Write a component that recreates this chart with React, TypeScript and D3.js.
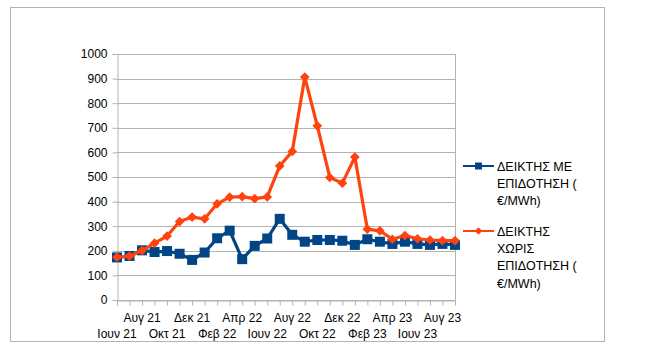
import React, { useEffect, useRef } from "react";
import * as d3 from "d3";

// months Jun 21 .. Sep 23
const months = [
    "Ιουν 21", "Ιουλ 21", "Αυγ 21", "Σεπ 21", "Οκτ 21", "Νοε 21", "Δεκ 21",
    "Ιαν 22", "Φεβ 22", "Μαρ 22", "Απρ 22", "Μαϊ 22", "Ιουν 22", "Ιουλ 22",
    "Αυγ 22", "Σεπ 22", "Οκτ 22", "Νοε 22", "Δεκ 22", "Ιαν 23", "Φεβ 23",
    "Μαρ 23", "Απρ 23", "Μαϊ 23", "Ιουν 23", "Ιουλ 23", "Αυγ 23", "Σεπ 23"
];

const withSubsidy = [
    173, 179, 202, 195, 199, 188, 163, 193, 251, 282, 166, 220, 250, 330,
    265, 237, 244, 244, 241, 224, 247, 237, 228, 237, 228, 224, 228, 224
];

const withoutSubsidy = [
    174, 178, 201, 231, 260, 319, 337, 330, 391, 418, 420, 412, 419, 545,
    604, 906, 708, 498, 475, 581, 288, 281, 247, 262, 249, 244, 241, 241
];

const yTicks = [0, 100, 200, 300, 400, 500, 600, 700, 800, 900, 1000];

const seriesNames = [
    ["ΔΕΙΚΤΗΣ ΜΕ", "ΕΠΙΔΟΤΗΣΗ (", "€/MWh)"],
    ["ΔΕΙΚΤΗΣ", "ΧΩΡΙΣ", "ΕΠΙΔΟΤΗΣΗ (", "€/MWh)"]
];

const BLUE = "#004586";
const RED = "#ff420e";

export default function App() {
    const ref = useRef<SVGSVGElement>(null);

    useEffect(() => {
        const svg = d3.select(ref.current);
        svg.selectAll("*").remove();

        const width = 657;
        const height = 358;
        const margin = { top: 54, right: 202, bottom: 58, left: 117 };
        const font = "'Liberation Sans', Arial, sans-serif";

        svg.append("rect")
            .attr("width", width)
            .attr("height", height)
            .attr("fill", "#fff");

        // outer frame
        svg.append("rect")
            .attr("x", 10.5)
            .attr("y", 7.5)
            .attr("width", 594)
            .attr("height", 334)
            .attr("fill", "none")
            .attr("stroke", "#b3b3b3");

        const x = d3.scalePoint<string>()
            .domain(months)
            .range([margin.left, width - margin.right]);

        const y = d3.scaleLinear()
            .domain([0, 1000])
            .range([height - margin.bottom, margin.top]);

        // grid
        svg.append("g")
            .selectAll("line")
            .data(yTicks)
            .enter()
            .append("line")
            .attr("x1", margin.left)
            .attr("x2", width - margin.right)
            .attr("y1", d => Math.round(y(d)) + 0.5)
            .attr("y2", d => Math.round(y(d)) + 0.5)
            .attr("stroke", "#b3b3b3");

        svg.append("line")
            .attr("x1", width - margin.right + 0.5)
            .attr("x2", width - margin.right + 0.5)
            .attr("y1", y(1000))
            .attr("y2", y(0))
            .attr("stroke", "#b3b3b3");

        // y axis
        const yAxis = svg.append("g")
            .attr("transform", `translate(${margin.left + 0.5},0)`)
            .call(d3.axisLeft(y).tickValues(yTicks).tickFormat(d3.format("d")).tickSize(5).tickPadding(5));
        yAxis.select(".domain").attr("stroke", "#b3b3b3");
        yAxis.selectAll(".tick line").attr("stroke", "#b3b3b3");
        yAxis.selectAll("text")
            .attr("font-family", font)
            .attr("font-size", 12)
            .attr("fill", "#000");

        // x axis
        const xAxis = svg.append("g")
            .attr("transform", `translate(0,${Math.round(y(0)) + 0.5})`)
            .call(d3.axisBottom(x).tickSize(5).tickFormat(() => ""));
        xAxis.select(".domain").attr("stroke", "#b3b3b3");
        xAxis.selectAll(".tick line").attr("stroke", "#b3b3b3");

        svg.append("g")
            .selectAll("text")
            .data(months.filter((m, i) => i % 2 === 0))
            .enter()
            .append("text")
            .attr("x", d => x(d)!)
            .attr("y", (d, i) => (i % 2 === 1 ? 322 : 338))
            .attr("text-anchor", "middle")
            .attr("font-family", font)
            .attr("font-size", 12)
            .attr("fill", "#000")
            .text(d => d);

        // lines
        const line = d3.line<number>()
            .x((d, i) => x(months[i])!)
            .y(d => y(d));

        svg.append("path")
            .datum(withSubsidy)
            .attr("d", line)
            .attr("fill", "none")
            .attr("stroke", BLUE)
            .attr("stroke-width", 3.2)
            .attr("stroke-linejoin", "round");

        svg.append("g")
            .selectAll("rect")
            .data(withSubsidy)
            .enter()
            .append("rect")
            .attr("x", (d, i) => x(months[i])! - 5)
            .attr("y", d => y(d) - 5)
            .attr("width", 10)
            .attr("height", 10)
            .attr("fill", BLUE);

        svg.append("path")
            .datum(withoutSubsidy)
            .attr("d", line)
            .attr("fill", "none")
            .attr("stroke", RED)
            .attr("stroke-width", 3.2)
            .attr("stroke-linejoin", "round");

        const diamond = d3.symbol().type(d3.symbolDiamond2).size(60);
        svg.append("g")
            .selectAll("path")
            .data(withoutSubsidy)
            .enter()
            .append("path")
            .attr("d", diamond)
            .attr("transform", (d, i) => `translate(${x(months[i])},${y(d)})`)
            .attr("fill", RED);

        // legend
        const legendX = 463;
        const legendRows = [
            { color: BLUE, y: 166, shape: "square" },
            { color: RED, y: 231, shape: "diamond" }
        ];

        legendRows.forEach((row, k) => {
            const g = svg.append("g");
            g.append("line")
                .attr("x1", legendX)
                .attr("x2", legendX + 31)
                .attr("y1", row.y)
                .attr("y2", row.y)
                .attr("stroke", row.color)
                .attr("stroke-width", 2);
            if (row.shape === "square") {
                g.append("rect")
                    .attr("x", legendX + 15.5 - 3.5)
                    .attr("y", row.y - 3.5)
                    .attr("width", 7)
                    .attr("height", 7)
                    .attr("fill", row.color);
            } else {
                g.append("path")
                    .attr("d", d3.symbol().type(d3.symbolDiamond2).size(35)())
                    .attr("transform", `translate(${legendX + 15.5},${row.y})`)
                    .attr("fill", row.color);
            }
            const text = g.append("text")
                .attr("font-family", font)
                .attr("font-size", 12.5)
                .attr("fill", "#000");
            seriesNames[k].forEach((s, j) => {
                text.append("tspan")
                    .attr("x", legendX + 34)
                    .attr("y", row.y + 4.5 + j * 17.4)
                    .text(s);
            });
        });
    }, []);

    return (
        <svg
            ref={ref}
            width={657}
            height={358}
            style={{ position: "absolute", left: 0, top: 0 }}
        />
    );
}
